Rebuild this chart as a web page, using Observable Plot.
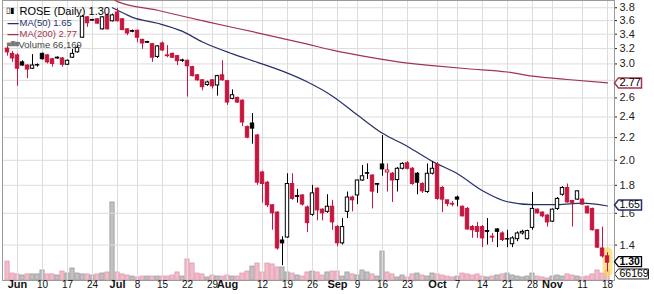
<!DOCTYPE html>
<html><head><meta charset="utf-8">
<script src="https://cdn.jsdelivr.net/npm/d3@7"></script>
<script src="https://cdn.jsdelivr.net/npm/@observablehq/plot@0.6"></script>
<style>
body{margin:0;background:#fff;}
#wrap{position:relative;width:654px;height:294px;overflow:hidden;}
#wrap svg{position:absolute;left:0;top:0;}
</style></head><body><div id="wrap"></div>
<script>
const dates = ["05-30","05-31",
"06-03","06-04","06-05","06-06","06-07","06-10","06-11","06-12","06-13","06-14","06-17","06-18","06-19","06-20","06-21","06-24","06-25","06-26","06-27","06-28",
"07-01","07-02","07-03","07-05","07-08","07-09","07-10","07-11","07-12","07-15","07-16","07-17","07-18","07-19","07-22","07-23","07-24","07-25","07-26","07-29","07-30","07-31",
"08-01","08-02","08-05","08-06","08-07","08-08","08-09","08-12","08-13","08-14","08-15","08-16","08-19","08-20","08-21","08-22","08-23","08-26","08-27","08-28","08-29","08-30",
"09-03","09-04","09-05","09-06","09-09","09-10","09-11","09-12","09-13","09-16","09-17","09-18","09-19","09-20","09-23","09-24","09-25","09-26","09-27","09-30",
"10-01","10-02","10-03","10-04","10-07","10-08","10-09","10-10","10-11","10-14","10-15","10-16","10-17","10-18","10-21","10-22","10-23","10-24","10-25","10-28","10-29","10-30","10-31",
"11-01","11-04","11-05","11-06","11-07","11-08","11-11","11-12","11-13","11-14","11-15","11-18"];

const open = [3.20,3.13,3.11,3.02,2.98,2.94,2.985,3.13,3.11,3.06,3.08,3.07,2.99,3.08,3.15,3.35,3.65,3.61,3.62,3.47,3.68,3.59,
3.725,3.62,3.47,3.445,3.45,3.32,3.29,3.26,3.09,3.27,3.11,3.13,3.10,3.045,3.04,2.96,2.86,2.80,2.745,2.80,2.74,2.86,
2.79,2.59,2.60,2.57,2.30,2.335,2.22,1.90,1.82,1.655,1.605,1.427,1.445,1.81,1.72,1.725,1.64,1.59,1.775,1.625,1.61,1.645,
1.51,1.41,1.61,1.71,1.725,1.837,1.895,1.876,1.81,1.965,1.90,1.89,1.84,1.93,1.975,1.93,1.89,1.81,1.75,1.89,
1.965,1.78,1.69,1.665,1.71,1.645,1.63,1.51,1.51,1.51,1.485,1.45,1.495,1.47,1.435,1.405,1.435,1.47,1.435,1.505,1.625,1.605,1.585,
1.545,1.63,1.73,1.78,1.685,1.695,1.695,1.645,1.63,1.49,1.38,1.335];
const high = [3.23,3.16,3.13,3.04,2.99,3.12,3.00,3.14,3.12,3.07,3.09,3.08,3.05,3.19,3.24,3.68,3.66,3.62,3.63,3.66,3.70,3.70,
3.79,3.63,3.48,3.46,3.46,3.33,3.30,3.27,3.24,3.29,3.24,3.14,3.11,3.06,3.05,2.97,2.87,2.81,2.79,2.81,2.86,3.04,
2.80,2.69,2.61,2.58,2.31,2.435,2.23,1.91,1.83,1.66,1.61,1.45,1.89,1.89,1.77,1.73,1.65,1.80,1.78,1.63,1.73,1.69,
1.52,1.565,1.75,1.72,1.84,1.957,1.97,1.88,1.815,2.22,1.97,1.90,1.94,1.98,1.99,1.94,1.90,1.82,1.97,1.99,
1.98,1.79,1.69,1.68,1.72,1.65,1.64,1.52,1.54,1.52,1.565,1.47,1.50,1.48,1.49,1.45,1.48,1.49,1.49,1.747,1.63,1.61,1.59,
1.63,1.71,1.79,1.81,1.69,1.76,1.70,1.65,1.635,1.495,1.51,1.355];
const low = [3.10,3.02,2.73,2.97,2.82,2.93,2.96,3.05,3.00,2.96,3.06,2.96,2.98,3.07,3.14,3.34,3.50,3.59,3.54,3.46,3.46,3.58,
3.58,3.45,3.38,3.42,3.28,3.19,3.27,3.02,3.07,3.16,3.08,3.07,2.98,3.02,2.61,2.84,2.79,2.68,2.73,2.70,2.62,2.79,
2.52,2.58,2.54,2.305,2.19,2.14,1.80,1.67,1.64,1.49,1.37,1.284,1.44,1.69,1.67,1.65,1.475,1.58,1.55,1.55,1.60,1.49,
1.39,1.40,1.565,1.61,1.66,1.83,1.845,1.63,1.74,1.87,1.75,1.675,1.75,1.92,1.92,1.80,1.73,1.74,1.74,1.88,
1.69,1.605,1.645,1.645,1.645,1.575,1.49,1.44,1.44,1.385,1.40,1.415,1.385,1.42,1.385,1.385,1.42,1.46,1.43,1.49,1.595,1.57,1.51,
1.54,1.62,1.72,1.67,1.51,1.69,1.655,1.595,1.485,1.38,1.325,1.25];
const close = [3.15,3.07,2.94,2.98,2.93,2.98,2.98,3.06,3.02,3.00,3.07,2.99,3.04,3.13,3.21,3.66,3.56,3.60,3.555,3.65,3.47,3.68,
3.59,3.46,3.41,3.435,3.35,3.27,3.28,3.08,3.23,3.175,3.10,3.08,3.035,3.04,2.97,2.85,2.80,2.72,2.775,2.73,2.85,2.80,
2.55,2.63,2.55,2.345,2.20,2.285,1.82,1.81,1.655,1.60,1.38,1.41,1.81,1.70,1.715,1.66,1.535,1.74,1.62,1.60,1.645,1.54,
1.41,1.51,1.71,1.69,1.837,1.87,1.89,1.753,1.805,1.925,1.916,1.837,1.93,1.97,1.93,1.81,1.82,1.755,1.89,1.93,
1.70,1.695,1.665,1.66,1.695,1.58,1.495,1.49,1.48,1.44,1.48,1.445,1.48,1.43,1.433,1.44,1.47,1.48,1.485,1.63,1.60,1.58,1.54,
1.625,1.70,1.78,1.675,1.672,1.755,1.66,1.60,1.49,1.385,1.335,1.30];
// volume in thousands of shares
const volume = [125,46,40,33,40,40,40,66,40,40,33,59,46,79,46,40,40,33,40,46,53,515,
53,40,33,26,20,26,26,26,26,26,26,33,53,26,139,112,46,40,20,33,26,26,
33,26,26,46,59,92,112,53,112,106,86,86,53,46,33,26,53,59,53,33,53,59,
59,26,53,40,33,66,53,40,26,191,53,40,20,33,20,40,46,33,26,46,
40,33,26,20,26,46,40,33,40,26,20,26,33,40,46,33,26,20,26,46,26,20,13,
26,33,26,40,33,26,20,26,40,66,46,66.169];
const prevCloseBeforeFirst = 3.24;

const ma50Dates = ["06-28","07-01","07-05","07-12","07-19","07-25","08-02","08-09","08-16","08-23","08-30","09-09","09-16","09-23","09-30","10-07","10-14","10-21","10-28","11-04","11-11","11-18"];
const ma50Values = [3.80,3.76,3.65,3.56,3.44,3.29,3.13,3.02,2.91,2.78,2.62,2.42,2.24,2.12,1.99,1.89,1.76,1.68,1.66,1.66,1.67,1.65];
const ma200Dates = ["06-28","07-01","07-12","07-26","08-09","08-23","08-30","09-11","09-23","09-30","10-09","10-21","10-28","11-06","11-18"];
const ma200Values = [3.95,3.90,3.76,3.58,3.42,3.26,3.18,3.09,3.01,2.98,2.94,2.90,2.85,2.81,2.77];

const gridTicks = [1.4,1.6,1.8,2.0,2.2,2.4,2.6,2.8,3.0,3.2,3.4,3.6,3.8];
const yTickLabels = [1.4,1.6,1.8,2.0,2.2,2.4,2.6,3.0,3.2,3.4,3.6,3.8]; // 2.8 is hidden under the MA(200) tag
const tickDates = ["06-03","06-10","06-17","06-24","07-01","07-08","07-15","07-22","07-29","08-01","08-12","08-19","08-26","09-03","09-09","09-16","09-23","10-01","10-07","10-14","10-21","10-28","11-01","11-11","11-18"];
const tickLabels = ["Jun","10","17","24","Jul","8","15","22","29","Aug","12","19","26","Sep","9","16","23","Oct","7","14","21","28","Nov","11","18"];

const RED = "#c4163f", NAVY = "#27306a", MAROON = "#a3344f";
const candles = dates.map((d, i) => {
  const prev = i ? close[i - 1] : prevCloseBeforeFirst;
  return {i, date: d, o: open[i], h: high[i], l: low[i], c: close[i], v: volume[i],
    up: close[i] >= prev, hollow: close[i] > open[i]};
});
const col = d => d.up ? "#000" : RED;
const fillOf = d => d.hollow ? "#fff" : col(d);
const ma50 = ma50Dates.map((d, k) => ({i: dates.indexOf(d), v: ma50Values[k]}));
const ma200 = ma200Dates.map((d, k) => ({i: dates.indexOf(d), v: ma200Values[k]}));
const ticks = tickDates.map((d, k) => ({i: dates.indexOf(d), label: tickLabels[k], month: /[A-Za-z]/.test(tickLabels[k])}));
const last = candles[candles.length - 1];
const lastMa50 = ma50Values[ma50Values.length - 1], lastMa200 = ma200Values[ma200Values.length - 1];

const tag = w => ({draw(ctx) { ctx.moveTo(0, 0); ctx.lineTo(4, -5); ctx.lineTo(w, -5); ctx.lineTo(w, 5); ctx.lineTo(4, 5); ctx.closePath(); }});

const common = {width: 654, height: 294, marginLeft: 2, marginRight: 40, marginTop: 0, marginBottom: 14,
  x: {type: "linear", domain: [-1, 121.4], axis: null}};
const FONT = "'Liberation Sans', Arial, sans-serif";

const volPlot = Plot.plot({...common,
  y: {domain: [0, 1848], axis: null},
  style: {background: "transparent", fontFamily: FONT},
  marks: [
    Plot.rect(candles, {x1: d => d.i - 0.42, x2: d => d.i + 0.42, y1: 0, y2: "v",
      fill: d => d.up ? "#c2c2c2" : "#f3bccb", stroke: d => d.up ? "#9a9a9a" : "#de98ab", strokeWidth: 0.8}),
    Plot.dot([last], {y: "v", frameAnchor: "right", dy: 3.5, symbol: tag(34), fill: "#fff", stroke: "#222", strokeWidth: 1}),
    Plot.text([last], {y: "v", frameAnchor: "right", dy: 3.5, dx: 5, text: d => Math.round(d.v * 1000).toString(), textAnchor: "start", fontSize: 10.5, fill: "#000"})
  ]
});

const mainPlot = Plot.plot({...common,
  y: {type: "log", domain: [1.206, 3.918], axis: null},
  style: {background: "transparent", fontFamily: FONT},
  marks: [
    Plot.ruleX(ticks, {x: "i", stroke: "#dcdcdc"}),
    Plot.ruleY(gridTicks, {stroke: "#dcdcdc"}),
    Plot.frame({stroke: "#9a9a9a"}),
    Plot.line(ma200, {x: "i", y: "v", stroke: MAROON, strokeWidth: 1.2, curve: "monotone-x", clip: true}),
    Plot.line(ma50, {x: "i", y: "v", stroke: NAVY, strokeWidth: 1.2, curve: "monotone-x", clip: true}),
    Plot.ruleX([last], {x: "i", y1: "l", y2: "h", stroke: "#ffd447", strokeOpacity: 0.6, strokeWidth: 10, strokeLinecap: "round"}),
    Plot.ruleX(candles, {x: "i", y1: "l", y2: "h", stroke: col}),
    Plot.rect(candles, {x1: d => d.i - 0.34, x2: d => d.i + 0.34, y1: d => Math.min(d.o, d.c), y2: d => Math.max(d.o, d.c), fill: fillOf, stroke: col, strokeWidth: 1}),
    Plot.axisY({ticks: yTickLabels, anchor: "right", tickSize: 2, tickPadding: 3, tickFormat: d => d.toFixed(1), fontSize: 11, color: "#222"}),
    Plot.dot([lastMa200], {y: d => d, frameAnchor: "right", symbol: tag(27), fill: "#fff", stroke: MAROON}),
    Plot.text([lastMa200], {y: d => d, frameAnchor: "right", dx: 5, text: d => d.toFixed(2), textAnchor: "start", fontSize: 11, fill: "#000"}),
    Plot.dot([lastMa50], {y: d => d, frameAnchor: "right", dy: -1, symbol: tag(27), fill: "#fff", stroke: NAVY}),
    Plot.text([lastMa50], {y: d => d, frameAnchor: "right", dy: -1, dx: 5, text: d => d.toFixed(2), textAnchor: "start", fontSize: 10.5, fill: "#000"}),
    Plot.dot([last], {y: "c", frameAnchor: "right", dy: -1, symbol: tag(27), fill: "#fff", stroke: "#000", strokeWidth: 1.3}),
    Plot.text([last], {y: "c", frameAnchor: "right", dy: -1, dx: 5, text: d => d.c.toFixed(2), textAnchor: "start", fontSize: 10.5, fontWeight: "bold", fill: "#000"}),
    Plot.text(ticks.filter(t => t.month), {x: "i", text: "label", frameAnchor: "bottom", dy: 7, fontSize: 11, fontWeight: "bold", fill: "#111"}),
    Plot.text(ticks.filter(t => !t.month), {x: "i", text: "label", frameAnchor: "bottom", dy: 7, fontSize: 10, fill: "#111"}),
    // legend
    Plot.text(["▯▮"], {frameAnchor: "top-left", dx: 3, dy: 7, fontSize: 8, fill: "#000", textAnchor: "start"}),
    Plot.text([`ROSE (Daily) ${last.c.toFixed(2)}`], {frameAnchor: "top-left", dx: 17, dy: 7, fontSize: 11, fill: "#000", textAnchor: "start"}),
    Plot.text(["—"], {frameAnchor: "top-left", dx: 5, dy: 18.5, fontSize: 11, fontWeight: "bold", fill: NAVY, textAnchor: "start"}),
    Plot.text([`MA(50) ${lastMa50.toFixed(2)}`], {frameAnchor: "top-left", dx: 17, dy: 18.5, fontSize: 9.5, fill: NAVY, textAnchor: "start"}),
    Plot.text(["—"], {frameAnchor: "top-left", dx: 5, dy: 29.5, fontSize: 11, fontWeight: "bold", fill: MAROON, textAnchor: "start"}),
    Plot.text([`MA(200) ${lastMa200.toFixed(2)}`], {frameAnchor: "top-left", dx: 17, dy: 29.5, fontSize: 9.5, fill: MAROON, textAnchor: "start"}),
    Plot.text(["▅▇▆"], {frameAnchor: "top-left", dx: 4, dy: 40.5, fontSize: 5, fill: "#777", textAnchor: "start"}),
    Plot.text([`Volume ${d3.format(",")(Math.round(last.v * 1000))}`], {frameAnchor: "top-left", dx: 16, dy: 40.5, fontSize: 9.5, fill: "#444", textAnchor: "start"})
  ]
});

const wrap = document.getElementById("wrap");
wrap.appendChild(volPlot);
wrap.appendChild(mainPlot);
</script></body></html>
